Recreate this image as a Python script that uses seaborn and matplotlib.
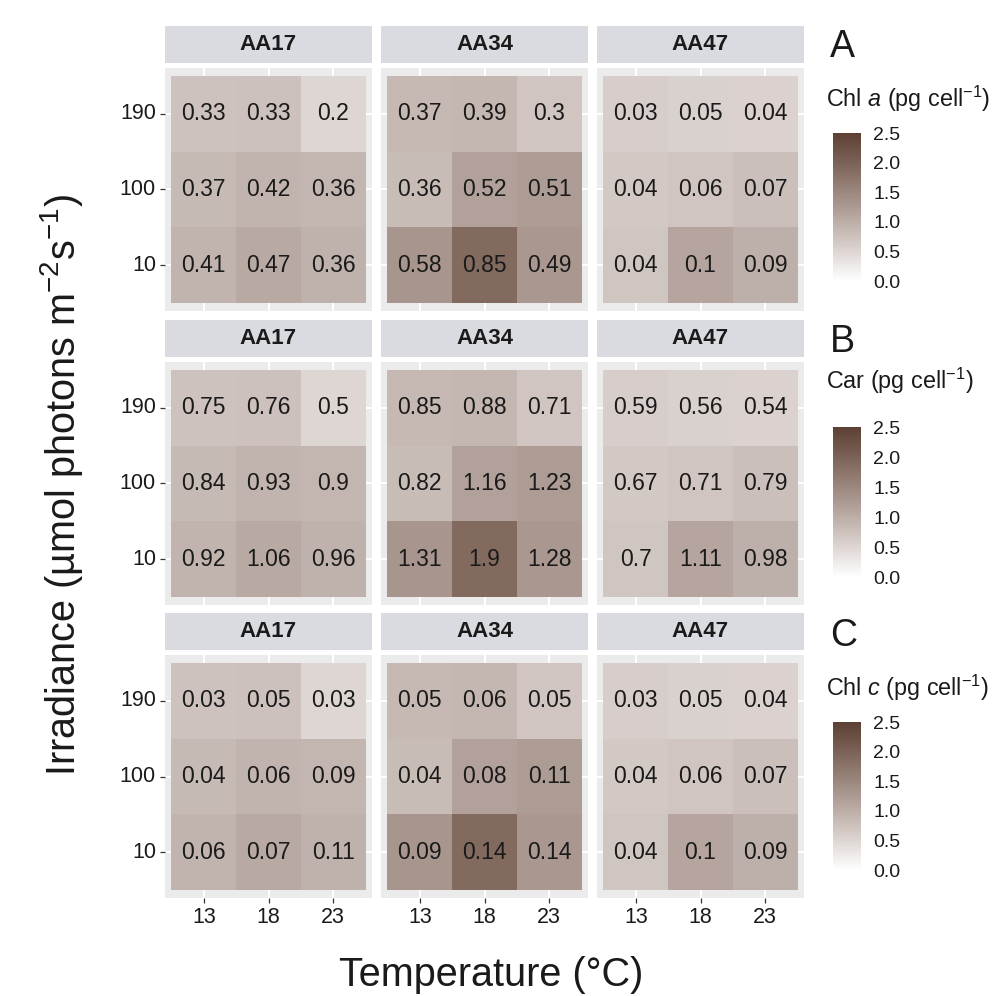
import numpy as np
import matplotlib
matplotlib.use("Agg")
import matplotlib.pyplot as plt
from matplotlib.colors import LinearSegmentedColormap, Normalize
from matplotlib.cm import ScalarMappable
import seaborn as sns

# ---------------- data ----------------
strains = ["AA17", "AA34", "AA47"]
temperatures = ["13", "18", "23"]
irradiances = ["190", "100", "10"]   # top -> bottom

chla_AA17 = [[0.33, 0.33, 0.2], [0.37, 0.42, 0.36], [0.41, 0.47, 0.36]]
chla_AA34 = [[0.37, 0.39, 0.3], [0.36, 0.52, 0.51], [0.58, 0.85, 0.49]]
chla_AA47 = [[0.03, 0.05, 0.04], [0.04, 0.06, 0.07], [0.04, 0.1, 0.09]]

car_AA17 = [[0.75, 0.76, 0.5], [0.84, 0.93, 0.9], [0.92, 1.06, 0.96]]
car_AA34 = [[0.85, 0.88, 0.71], [0.82, 1.16, 1.23], [1.31, 1.9, 1.28]]
car_AA47 = [[0.59, 0.56, 0.54], [0.67, 0.71, 0.79], [0.7, 1.11, 0.98]]

chlc_AA17 = [[0.03, 0.05, 0.03], [0.04, 0.06, 0.09], [0.06, 0.07, 0.11]]
chlc_AA34 = [[0.05, 0.06, 0.05], [0.04, 0.08, 0.11], [0.09, 0.14, 0.14]]
chlc_AA47 = [[0.03, 0.05, 0.04], [0.04, 0.06, 0.07], [0.04, 0.1, 0.09]]

# tile fill (same shading in all three rows)
fill_values = [car_AA17, car_AA34, car_AA47]

panel_letters = ["A", "B", "C"]
legend_titles = ["Chl $a$ (pg cell$^{-1}$)", "Car (pg cell$^{-1}$)", "Chl $c$ (pg cell$^{-1}$)"]
label_values = [[chla_AA17, chla_AA34, chla_AA47],
                [car_AA17, car_AA34, car_AA47],
                [chlc_AA17, chlc_AA34, chlc_AA47]]
cbar_ticks = [0.0, 0.5, 1.0, 1.5, 2.0, 2.5]

# ---------------- style ----------------
sns.set_theme(style="white")
plt.rcParams["font.family"] = ["Liberation Sans", "DejaVu Sans"]
plt.rcParams["mathtext.fontset"] = "custom"
plt.rcParams["mathtext.rm"] = "Liberation Sans"
plt.rcParams["mathtext.it"] = "Liberation Sans:italic"
plt.rcParams["mathtext.bf"] = "Liberation Sans:bold"

TXT = "#1a1a1a"

# Lab-space gradient white -> dark brown (as in ggplot scale_fill_gradient)
def _lin(c):
    c = np.asarray(c, float)
    return np.where(c <= 0.04045, c / 12.92, ((c + 0.055) / 1.055) ** 2.4)

def _unlin(c):
    c = np.clip(c, 0, 1)
    return np.where(c <= 0.0031308, 12.92 * c, 1.055 * c ** (1 / 2.4) - 0.055)

_M = np.array([[0.4124, 0.3576, 0.1805], [0.2126, 0.7152, 0.0722], [0.0193, 0.1192, 0.9505]])
_WP = np.array([0.95047, 1.0, 1.08883])

def _f(t):
    d = 6 / 29
    return np.where(t > d ** 3, np.cbrt(t), t / (3 * d * d) + 4 / 29)

def _finv(t):
    d = 6 / 29
    return np.where(t > d, t ** 3, 3 * d * d * (t - 4 / 29))

def to_lab(rgb):
    xyz = _M @ _lin(rgb) / _WP
    fx, fy, fz = _f(xyz)
    return np.array([116 * fy - 16, 500 * (fx - fy), 200 * (fy - fz)])

def from_lab(lab):
    L, a, b = lab
    fy = (L + 16) / 116
    xyz = np.array([_finv(fy + a / 500), _finv(fy), _finv(fy - b / 200)]) * _WP
    return _unlin(np.linalg.solve(_M, xyz))

low = np.array([1.0, 1.0, 1.0])
high = np.array(matplotlib.colors.to_rgb("#5C4033"))
lab_lo, lab_hi = to_lab(low), to_lab(high)
stops = [tuple(np.clip(from_lab(lab_lo + t * (lab_hi - lab_lo)), 0, 1)) for t in np.linspace(0, 1, 64)]
cmap = LinearSegmentedColormap.from_list("brown", stops)
norm = Normalize(vmin=0, vmax=2.5)

# ---------------- layout ----------------
W, H = 992, 996
fig = plt.figure(figsize=(W / 100, H / 100), dpi=100)

def rect(x0, y0, x1, y1):
    return [x0 / W, 1 - y1 / H, (x1 - x0) / W, (y1 - y0) / H]

col_x = [(165, 372), (381, 588), (597, 804)]
row_panel_y = [(68, 311), (362, 605), (655, 898)]
row_strip_y = [(26, 63), (320, 357), (613, 650)]
cbar_y = [(133, 281), (427, 577), (722, 870)]
letter_y = [47, 342, 636]
title_y = [99, 381, 688]

for r in range(3):
    for c in range(3):
        x0, x1 = col_x[c]
        y0, y1 = row_panel_y[r]
        ax = fig.add_axes(rect(x0, y0, x1, y1))
        ax.set_facecolor("#ebebeb")
        annot = np.array([[f"{v:g}" for v in row] for row in label_values[r][c]])
        sns.heatmap(np.array(fill_values[c]), ax=ax, cmap=cmap, vmin=0, vmax=2.5,
                    cbar=False, annot=annot, fmt="",
                    annot_kws={"color": TXT, "fontsize": 16.5},
                    xticklabels=temperatures, yticklabels=irradiances, linewidths=0)
        ax.set_xlim(-0.1, 3.1)
        ax.set_ylim(3.1, -0.1)
        for k in range(3):
            ax.axvline(k + 0.5, color="white", lw=1.4, zorder=0)
            ax.axhline(k + 0.5, color="white", lw=1.4, zorder=0)
        for s in ax.spines.values():
            s.set_visible(False)
        ax.set_xlabel("")
        ax.set_ylabel("")
        ax.tick_params(axis="both", which="both", length=3.5, width=0.9, color="#333333",
                       labelsize=15.5, labelcolor=TXT)
        ax.tick_params(axis="x", pad=3)
        ax.tick_params(axis="y", pad=3)
        plt.setp(ax.get_yticklabels(), rotation=0, va="center")
        plt.setp(ax.get_xticklabels(), rotation=0)
        ax.tick_params(left=(c == 0), labelleft=(c == 0),
                       bottom=(r == 2), labelbottom=(r == 2))

        # strip
        sy0, sy1 = row_strip_y[r]
        sax = fig.add_axes(rect(x0, sy0, x1, sy1))
        sax.set_facecolor("#dadbe0")
        sax.set_xticks([])
        sax.set_yticks([])
        for s in sax.spines.values():
            s.set_visible(False)
        sax.text(0.5, 0.5, strains[c], ha="center", va="center", fontsize=16,
                 fontweight="bold", color=TXT, transform=sax.transAxes)

    # panel letter and legend title
    fig.text(830 / W, 1 - letter_y[r] / H, panel_letters[r], ha="left", va="center",
             fontsize=27, color=TXT)
    fig.text(826 / W, 1 - title_y[r] / H, legend_titles[r], ha="left", va="center",
             fontsize=16.8, color=TXT)

    # colorbar
    cy0, cy1 = cbar_y[r]
    cax = fig.add_axes(rect(833, cy0, 861, cy1))
    cb = fig.colorbar(ScalarMappable(norm=norm, cmap=cmap), cax=cax)
    cb.outline.set_visible(False)
    cb.set_ticks(cbar_ticks)
    cb.set_ticklabels([f"{t:.1f}" for t in cbar_ticks])
    cax.yaxis.set_ticks_position("both")
    cax.tick_params(axis="y", direction="in", length=4, width=1, color="white",
                    labelsize=14, labelcolor=TXT, pad=9, labelleft=False, labelright=True)

# axis titles
fig.text(491 / W, 1 - 975 / H, "Temperature (°C)", ha="center", va="center",
         fontsize=28.5, color=TXT)
fig.text(62 / W, 1 - 485 / H, "Irradiance (µmol photons m$^{-2}$s$^{-1}$)",
         ha="center", va="center", rotation=90, fontsize=28.5, color=TXT)

fig.savefig("out.png", dpi=100, facecolor="white")
